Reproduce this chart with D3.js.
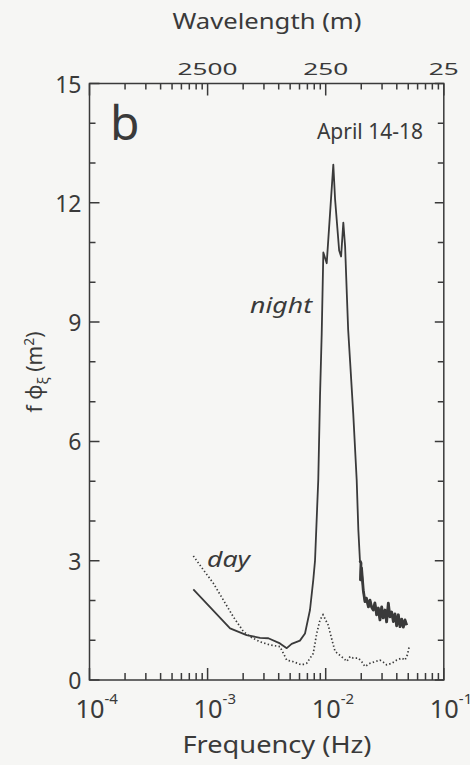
<!DOCTYPE html>
<html>
<head>
<meta charset="utf-8">
<script src="https://cdn.jsdelivr.net/npm/d3@7"></script>
<style>
  html, body { margin: 0; padding: 0; background: #f6f6f4; }
  svg { display: block; font-family: "Noto Sans", "DejaVu Sans", sans-serif; }
  text { fill: #3a3a3a; }
</style>
</head>
<body>
<script>
// values
const nightFreq = [7.57e-4, 1.55e-3, 2.14e-3, 2.78e-3, 3.27e-3, 4.10e-3, 4.68e-3, 5.15e-3,
  6.05e-3, 6.68e-3, 7.36e-3, 7.85e-3, 8.12e-3, 8.65e-3, 8.95e-3, 9.25e-3, 9.55e-3, 1.02e-2,
  1.16e-2, 1.20e-2, 1.30e-2, 1.35e-2, 1.41e-2, 1.46e-2, 1.51e-2, 1.55e-2, 1.61e-2, 1.71e-2,
  1.83e-2, 1.89e-2, 1.95e-2, 1.99e-2, 1.97e-2, 2.01e-2, 2.08e-2, 2.15e-2, 2.21e-2, 2.30e-2,
  2.37e-2, 2.45e-2, 2.53e-2, 2.61e-2, 2.70e-2, 2.79e-2, 2.88e-2, 2.98e-2, 3.07e-2, 3.18e-2,
  3.28e-2, 3.39e-2, 3.50e-2, 3.62e-2, 3.74e-2, 3.86e-2, 3.99e-2, 4.12e-2, 4.26e-2, 4.40e-2,
  4.54e-2, 4.69e-2, 4.85e-2];
const nightPhi = [2.28, 1.30, 1.13, 1.06, 1.05, 0.92, 0.80, 0.91,
  0.99, 1.17, 1.76, 2.52, 3.0, 5.03, 7.13, 8.7, 10.75, 10.48,
  12.96, 12.1, 10.8, 10.65, 11.5, 10.9, 9.7, 8.8, 8.0, 6.71,
  5.03, 3.77, 3.0, 2.94, 2.52, 2.82, 2.26, 1.97, 2.06, 1.84,
  2.01, 1.83, 1.76, 1.94, 1.64, 1.81, 1.51, 1.84, 1.56, 1.76,
  1.46, 1.93, 1.59, 1.71, 1.47, 1.66, 1.36, 1.64, 1.34, 1.53,
  1.33, 1.51, 1.38];

const dayFreq = [7.57e-4, 9.21e-4, 1.12e-3, 1.36e-3, 1.65e-3, 2.01e-3, 2.29e-3, 2.78e-3,
  3.38e-3, 4.10e-3, 4.38e-3, 4.68e-3, 5.32e-3, 6.26e-3, 6.90e-3, 7.85e-3, 8.39e-3, 8.95e-3,
  9.49e-3, 1.05e-2, 1.12e-2, 1.20e-2, 1.32e-2, 1.41e-2, 1.51e-2, 1.61e-2, 1.71e-2, 1.89e-2,
  2.02e-2, 2.15e-2, 2.37e-2, 2.61e-2, 2.88e-2, 3.07e-2, 3.28e-2, 3.62e-2, 3.99e-2, 4.40e-2,
  4.69e-2, 4.91e-2, 5.10e-2];
const dayPhi = [3.12, 2.77, 2.43, 2.01, 1.59, 1.22, 1.09, 0.96,
  0.88, 0.84, 0.67, 0.50, 0.46, 0.38, 0.42, 0.67, 1.17, 1.51,
  1.64, 1.38, 1.05, 0.72, 0.62, 0.55, 0.47, 0.59, 0.55, 0.55,
  0.46, 0.34, 0.42, 0.46, 0.50, 0.45, 0.38, 0.42, 0.50, 0.55,
  0.50, 0.63, 0.84];

const yMajor = [0, 3, 6, 9, 12, 15];
const yMinor = [1, 2, 4, 5, 7, 8, 10, 11, 13, 14];
const freqDecades = [1e-4, 1e-3, 1e-2, 1e-1];
const freqExponents = ["-4", "-3", "-2", "-1"];
const waveLabels = [2500, 250, 25];
const waveDecades = [25000, 2500, 250, 25];

const W = 470, H = 765;
const x0 = 89.5, x1 = 443.8, yTop = 83.5, yBot = 680;

const x = d3.scaleLog().domain([1e-4, 1e-1]).range([x0, x1]);
const wl = d3.scaleLog().domain([25000, 25]).range([x0, x1]);
const y = d3.scaleLinear().domain([0, 15]).range([yBot, yTop]);

const svg = d3.select("body").append("svg")
  .attr("width", W).attr("height", H);

const ink = "#3a3a3a";

// minor log ticks: k * 10^n
const freqMinor = [];
for (let n = -4; n < -1; n++) for (let k = 2; k <= 9; k++) freqMinor.push(k * Math.pow(10, n));
const waveMinor = [];
for (let n = 0; n < 3; n++) for (let k = 2; k <= 9; k++) waveMinor.push(25000 / Math.pow(10, n) / k);

// all inward ticks go into one path
const tp = d3.path();
function vTicks(vals, xEdge, dir, len) {
  vals.forEach(d => { tp.moveTo(xEdge, y(d)); tp.lineTo(xEdge + dir * len, y(d)); });
}
function hTicks(scale, vals, yEdge, dir, len) {
  vals.forEach(d => { tp.moveTo(scale(d), yEdge); tp.lineTo(scale(d), yEdge + dir * len); });
}
vTicks(yMajor, x0, 1, 10);
vTicks(yMinor, x0, 1, 6);
vTicks(yMajor, x1, -1, 9);
vTicks(yMinor, x1, -1, 6);
hTicks(x, freqDecades, yBot, -1, 12);
hTicks(x, freqMinor, yBot, -1, 7);
hTicks(wl, waveDecades, yTop, 1, 12);
hTicks(wl, waveMinor, yTop, 1, 6);

svg.append("path")
  .attr("d", tp.toString())
  .attr("fill", "none").attr("stroke", ink).attr("stroke-width", 1.5);

// frame
svg.append("rect")
  .attr("x", x0).attr("y", yTop)
  .attr("width", x1 - x0).attr("height", yBot - yTop)
  .attr("fill", "none").attr("stroke", ink).attr("stroke-width", 1.5);

// y labels
svg.append("g").selectAll("text").data(yMajor).join("text")
  .attr("x", x0 - 8).attr("y", d => y(d) + 9)
  .attr("text-anchor", "end")
  .attr("font-size", 23)
  .text(d => d);

// bottom labels 10^n
const bl = svg.append("g").selectAll("text").data(freqDecades).join("text")
  .attr("x", d => x(d) - 14).attr("y", 718)
  .attr("font-size", 26);
bl.append("tspan").text("10").attr("textLength", 29).attr("lengthAdjust", "spacingAndGlyphs");
bl.append("tspan").attr("dy", -14).attr("font-size", 15).text((d, i) => freqExponents[i]);

// top labels
svg.append("g").selectAll("text").data(waveLabels).join("text")
  .attr("x", d => wl(d)).attr("y", 75)
  .attr("text-anchor", "middle").attr("font-size", 17)
  .attr("textLength", d => String(d).length * 15)
  .attr("lengthAdjust", "spacingAndGlyphs")
  .text(d => d);

svg.append("text")
  .attr("x", 267).attr("y", 29)
  .attr("text-anchor", "middle").attr("font-size", 21)
  .attr("textLength", 189).attr("lengthAdjust", "spacingAndGlyphs")
  .text("Wavelength (m)");

svg.append("text")
  .attr("x", 277).attr("y", 753)
  .attr("text-anchor", "middle").attr("font-size", 24)
  .attr("textLength", 189).attr("lengthAdjust", "spacingAndGlyphs")
  .text("Frequency (Hz)");

// y axis title
const yt = svg.append("text")
  .attr("transform", "translate(42,372) rotate(-90)")
  .attr("text-anchor", "middle").attr("font-size", 21);
yt.append("tspan").text("f φ");
yt.append("tspan").attr("dy", 6).attr("font-size", 15).text("ξ");
yt.append("tspan").attr("dy", -6).text(" (m");
yt.append("tspan").attr("dy", -8).attr("font-size", 14).text("2");
yt.append("tspan").attr("dy", 8).text(")");

// panel annotations
svg.append("text").attr("x", 110).attr("y", 140).attr("font-size", 48).text("b");
svg.append("text").attr("x", 423).attr("y", 139).attr("text-anchor", "end")
  .attr("font-size", 21).text("April 14-18");
svg.append("text").attr("x", 250).attr("y", 313).attr("font-size", 21)
  .attr("font-style", "italic").attr("textLength", 62).attr("lengthAdjust", "spacingAndGlyphs")
  .text("night");
svg.append("text").attr("x", 207).attr("y", 567).attr("font-size", 21)
  .attr("font-style", "italic").attr("textLength", 43).attr("lengthAdjust", "spacingAndGlyphs")
  .text("day");

// curves
const line = d3.line().x(d => x(d[0])).y(d => y(d[1]));
const night = d3.zip(nightFreq, nightPhi);
const day = d3.zip(dayFreq, dayPhi);

svg.append("path").datum(day)
  .attr("d", line).attr("fill", "none")
  .attr("stroke", ink).attr("stroke-width", 1.7)
  .attr("stroke-dasharray", "1.4 2.3");

svg.append("path").datum(night)
  .attr("d", line).attr("fill", "none")
  .attr("stroke", ink).attr("stroke-width", 1.8)
  .attr("stroke-linejoin", "round");

// the noisy high-frequency tail looks like a dark band in the scan
svg.append("path").datum(night.slice(30))
  .attr("d", line).attr("fill", "none")
  .attr("stroke", ink).attr("stroke-width", 2.8)
  .attr("stroke-linejoin", "round");
</script>
</body>
</html>
